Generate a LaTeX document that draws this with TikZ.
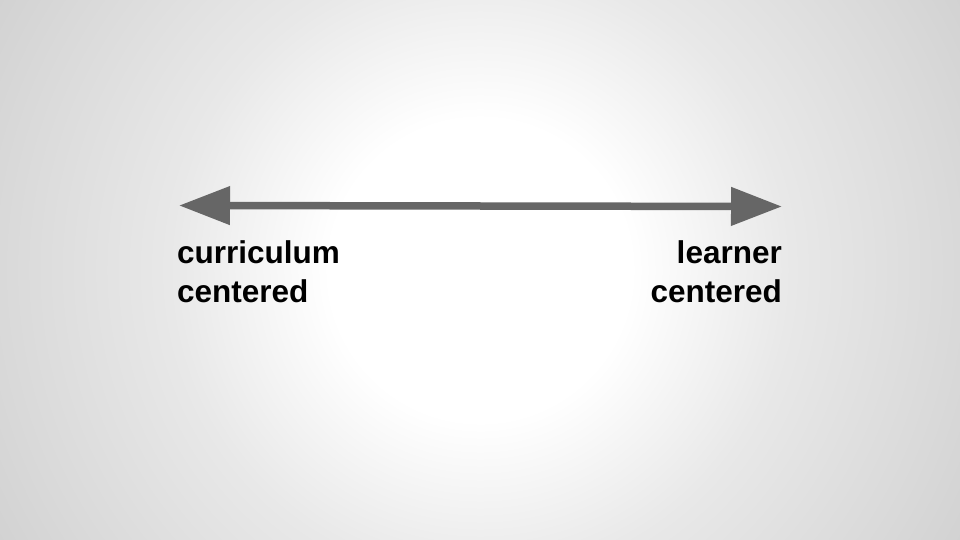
\documentclass[tikz,border=0pt]{standalone}
\usepackage{fontspec}
\setmainfont{Liberation Sans}
\usepackage{tikz}
\usetikzlibrary{arrows.meta}
\usetikzlibrary{positioning}

\definecolor{bgedge}{gray}{0.82}
\definecolor{bgside}{gray}{0.85}
\definecolor{bgmid}{gray}{0.91}
\definecolor{arrowgray}{HTML}{666666}
% radii in bp, one bp per pixel
\pgfdeclareradialshading{bgglow}{\pgfpoint{0bp}{0bp}}{%
  color(0bp)=(white); color(150bp)=(white); color(310bp)=(bgmid);
  color(480bp)=(bgside); color(560bp)=(bgedge)}

\begin{document}
\begin{tikzpicture}[
    x=1pt, y=-1pt, % one unit per pixel, y going down
    spectrum/.style={
        draw=arrowgray, % grey shaft
        line width=7.5pt,
        {Triangle[length=51pt,width=37pt]}-{Triangle[length=51pt,width=37pt]} % big heads both ends
    },
    endlabel/.style={
        inner sep=0pt,
        font=\bfseries\fontsize{31.5}{39}\selectfont % bold sans, large
    }
]

% background glow
\useasboundingbox (0,0) rectangle (960,540);
\begin{scope}
\clip (0,0) rectangle (960,540);
\node[inner sep=0pt] (glow) at (480,270) {\pgfuseshading{bgglow}};
\end{scope}

\coordinate (curr) at (179,205.5);
\coordinate (lrn) at (782,206.5);
\draw[spectrum] (curr) -- (lrn);

% base sits on the last line
\node[endlabel, align=left, anchor=base west] (currtext) at (177,302) {curriculum\\centered};
\node[endlabel, align=right, anchor=base east] (lrntext) at (782,302) {learner\\centered};
\end{tikzpicture}
\end{document}
